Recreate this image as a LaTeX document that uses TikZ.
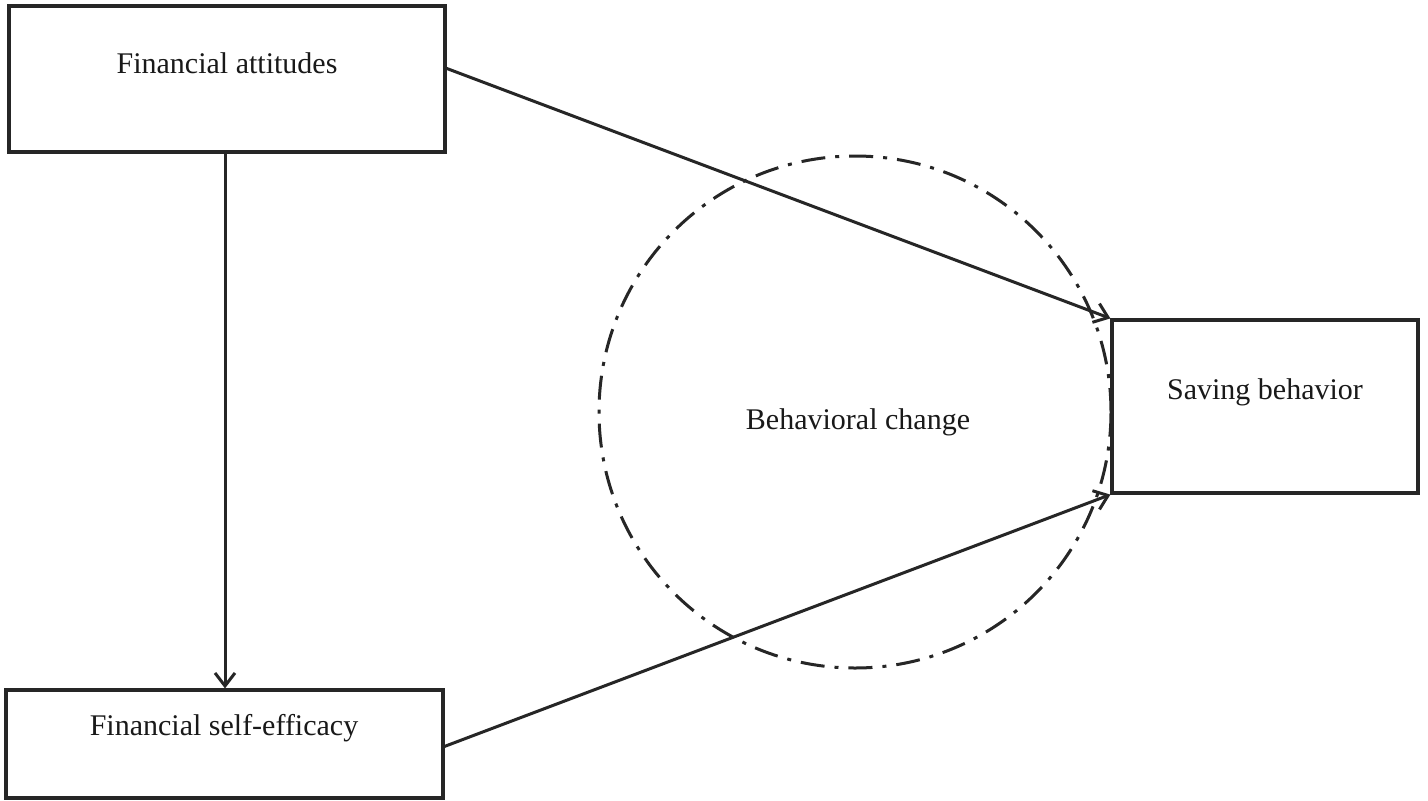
\documentclass[tikz,border=0pt]{standalone}
\usepackage{fontspec}
\setmainfont{Liberation Serif}
\usetikzlibrary{arrows.meta,calc}
\begin{document}
\begin{tikzpicture}[x=1pt,y=-1pt,
  box/.style={draw=black!85,line width=3.2pt,rectangle,inner sep=0pt},
  lbl/.style={font=\fontsize{30}{33}\selectfont,text=black!90,inner sep=0pt},
  conn/.style={draw=black!85,line width=3pt,-{Straight Barb[length=13pt,width=20pt,line width=3pt]}},
  ring/.style={draw=black!85,line width=3pt,dash pattern=on 24pt off 10pt on 4pt off 10pt}]
\useasboundingbox (0,0) rectangle (1428,801);
\fill[white] (0,0) rectangle (1428,801);
% boxes
\node[box,minimum width=436pt,minimum height=146pt] (att) at (227,79) {};
\node[box,minimum width=437pt,minimum height=108pt] (eff) at (224.5,744) {};
\node[box,minimum width=306pt,minimum height=173pt] (sav) at (1265,406.5) {};
\node[ring,circle,minimum size=512pt,inner sep=0pt] (chg) at (855,412) {};
% texts
\node[lbl] (tatt) at (227,63) {Financial attitudes};
\node[lbl] (teff) at (224,728) {Financial self-efficacy};
\node[lbl] (tsav) at (1265,392) {Saving behavior};
\node[lbl] (tchg) at (858,422) {Behavioral change};
% connector endpoints
\coordinate (a1) at ($(att.north east)+(0,64)$);
\coordinate (a2) at ($(att.south)+(-2,0)$);
\coordinate (e2) at ($(eff.north)+(0.5,0)$);
\coordinate (e1) at ($(eff.north east)+(0,58)$);
% connectors
\draw[conn] (a1) -- (sav.north west);
\draw[conn] (a2) -- (e2);
\draw[conn] (e1) -- (sav.south west);
\end{tikzpicture}
\end{document}
